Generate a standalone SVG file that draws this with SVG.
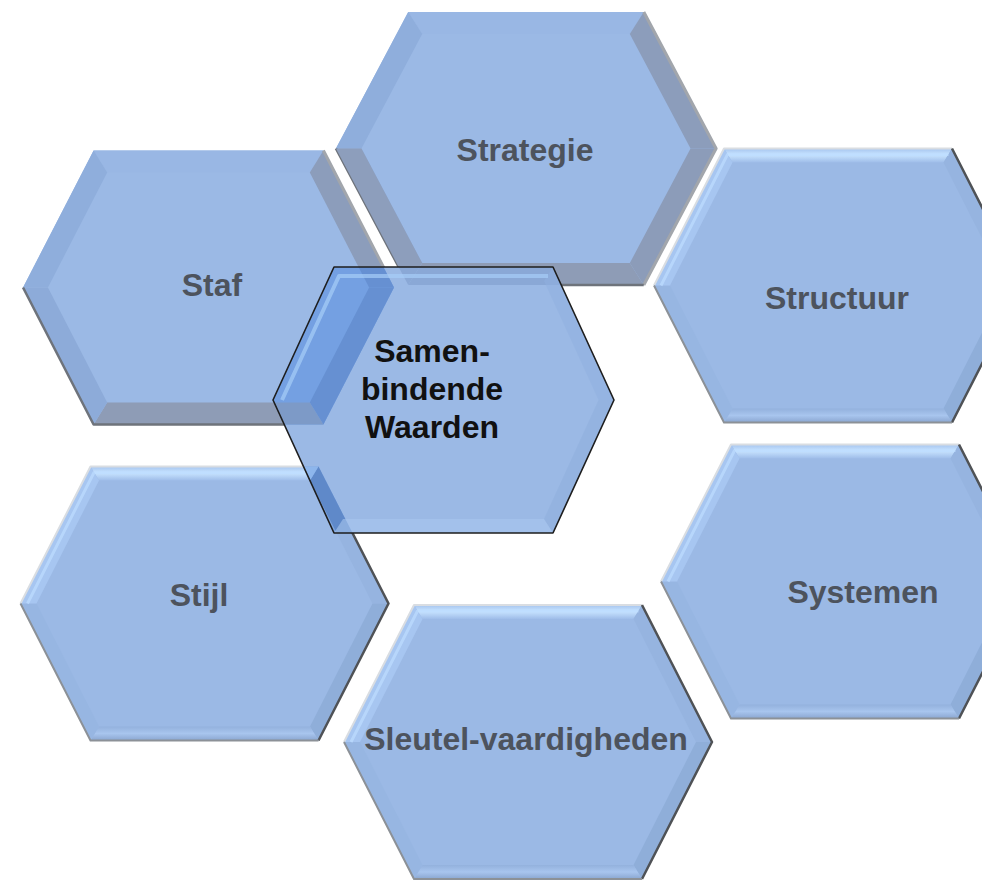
<svg xmlns="http://www.w3.org/2000/svg" width="982" height="881" viewBox="0 0 982 881">
<defs>
<style>
.lbl{font-family:"Liberation Sans",Arial,sans-serif;font-weight:bold;font-size:32px;fill:#4D535D;text-anchor:middle}
.ctr{fill:#111111}
.base{fill:#9BB9E5}
.edge{fill:none;stroke-linejoin:round}
</style>
<linearGradient id="gTop" x1="0" y1="0" x2="0" y2="1">
<stop offset="0" stop-color="#A5C4EF"/><stop offset="0.45" stop-color="#C8E4FF"/><stop offset="1" stop-color="#9FBDE9"/>
</linearGradient>
<linearGradient id="gBot" x1="0" y1="0" x2="0" y2="1">
<stop offset="0" stop-color="#93B1DD"/><stop offset="0.5" stop-color="#A8C5EE"/><stop offset="1" stop-color="#8AA6D0"/>
</linearGradient>
<clipPath id="clipSamen"><polygon points="273,400 334,267 553,267 614,400 553,533 334,533"/></clipPath>
<g id="hexA">
<polygon class="base" points="-184,0 -114,-137 114,-137 184,0 114,137 -114,137"/>
<polygon fill="url(#gTop)" points="-114,-137 114,-137 105.5,-123 -105.5,-123"/>
<polygon fill="#96B4E0" points="114,-137 184,0 168,0 105.5,-123"/>
<polygon fill="#8FAED9" points="184,0 114,137 105.5,123 168,0"/>
<polygon fill="url(#gBot)" points="114,137 -114,137 -105.5,123 105.5,123"/>
<polygon fill="#97B6E2" points="-114,137 -184,0 -168,0 -105.5,123"/>
<polygon fill="#A7C6F1" points="-184,0 -114,-137 -105.5,-123 -168,0"/>
<polyline class="edge" points="-177,0 -110.5,-131 110.5,-131" stroke="#BEDDFF" stroke-width="3" opacity="0.7"/>
<polyline class="edge" points="-184,0 -114,-137 114,-137" stroke="#D9DDE2" stroke-width="2"/>
<polyline class="edge" points="114,-137 184,0 114,137" stroke="#4F5256" stroke-width="2.5"/>
<polyline class="edge" points="114,137 -114,137 -184,0" stroke="#8C9197" stroke-width="2"/>
</g>
<g id="hexB">
<polygon class="base" points="-184,0 -114,-137 114,-137 184,0 114,137 -114,137"/>
<polygon fill="#99B7E4" points="-114,-137 114,-137 100.5,-115 -100.5,-115"/>
<polygon fill="#8C9DBB" points="114,-137 184,0 159.3,0 100.5,-115"/>
<polygon fill="#8C9CB9" points="184,0 114,137 100.5,115 159.3,0"/>
<polygon fill="#8E9CB6" points="114,137 -114,137 -100.5,115 100.5,115"/>
<polygon fill="#8DABD9" points="-114,137 -184,0 -159.3,0 -100.5,115"/>
<polygon fill="#8FAEDC" points="-184,0 -114,-137 -100.5,-115 -159.3,0"/>
<polyline class="edge" points="114,-137 184,0 114,137" stroke="#A2A6AC" stroke-width="3"/>
<polyline class="edge" points="114,137 -114,137 -184,0" stroke="#6E737B" stroke-width="2.5"/>
</g>
</defs>
<rect width="982" height="881" fill="#FFFFFF"/>
<g id="strategie">
<use href="#hexB" transform="translate(526,148.5) scale(1.033,0.996)"/>
<polygon fill="#8D9EBC" transform="translate(526,148.5) scale(1.033,0.996)" points="-114,137 -184,0 -159.3,0 -100.5,115"/>
<text class="lbl" x="525" y="161">Strategie</text>
</g>
<g id="staf">
<use href="#hexB" transform="translate(208.5,287.5) scale(1.008,1)"/>
<text class="lbl" x="212" y="296">Staf</text>
</g>
<g id="structuur">
<use href="#hexA" transform="translate(838,285.5)"/>
<text class="lbl" x="837" y="309">Structuur</text>
</g>
<g id="systemen">
<use href="#hexA" transform="translate(845,581.5)"/>
<text class="lbl" x="863" y="603">Systemen</text>
</g>
<g id="stijl">
<use href="#hexA" transform="translate(204.5,603.5)"/>
<text class="lbl" x="199" y="606">Stijl</text>
</g>
<g id="sleutel-vaardigheden">
<use href="#hexA" transform="translate(528,742)"/>
<text class="lbl" x="526" y="750">Sleutel-vaardigheden</text>
</g>
<g id="samenbindende-waarden">
<polygon points="273,400 334,267 553,267 614,400 553,533 334,533" fill="#9BB9E5"/>
<g clip-path="url(#clipSamen)">
<polygon fill="#74A0E2" points="23,287.5 93.6,150.5 323.4,150.5 394,287.5 323.4,424.5 93.6,424.5"/>
<polygon fill="#6690D2" points="323.4,150.5 394,287.5 369.1,287.5 309.8,172.5"/>
<polygon fill="#6690D2" points="394,287.5 323.4,424.5 309.8,402.5 369.1,287.5"/>
<polygon fill="#7D9AC7" points="323.4,424.5 93.6,424.5 107.2,402.5 309.8,402.5"/>
<polygon fill="#8AA8D6" points="408.2,285 643.8,285 629.8,263 422.2,263"/>
<polygon fill="#8AA8D6" points="408.2,285 336,148.5 361.4,148.5 422.2,263"/>
<polygon fill="#7EA5DE" points="20.5,603.5 90.5,466.5 318.5,466.5 388.5,603.5 318.5,740.5 90.5,740.5"/>
<polygon fill="#5F89C9" points="318.5,466.5 388.5,603.5 372.5,603.5 310,480.5"/>
<polygon fill="#8DB6EC" points="90.5,466.5 318.5,466.5 310,480.5 99,480.5"/>
</g>
<polygon points="553,267 614,400 598.6,400 544,281" fill="#8FAFDF" opacity="0.5"/>
<polygon points="614,400 553,533 544,519 598.6,400" fill="#8DADDC" opacity="0.5"/>
<polygon points="553,533 334,533 343,519 544,519" fill="#A9C6EE" opacity="0.6"/>
<polyline class="edge" points="282,400 339,276 548,276" stroke="#A6CDF8" stroke-width="4" opacity="0.7"/>
<polygon class="edge" points="273,400 334,267 553,267 614,400 553,533 334,533" stroke="#1E1E1E" stroke-width="1.6"/>
<text class="lbl ctr" x="432" y="362">Samen-</text>
<text class="lbl ctr" x="432" y="400">bindende</text>
<text class="lbl ctr" x="432" y="438">Waarden</text>
</g>
<g id="connectors"/>
</svg>
